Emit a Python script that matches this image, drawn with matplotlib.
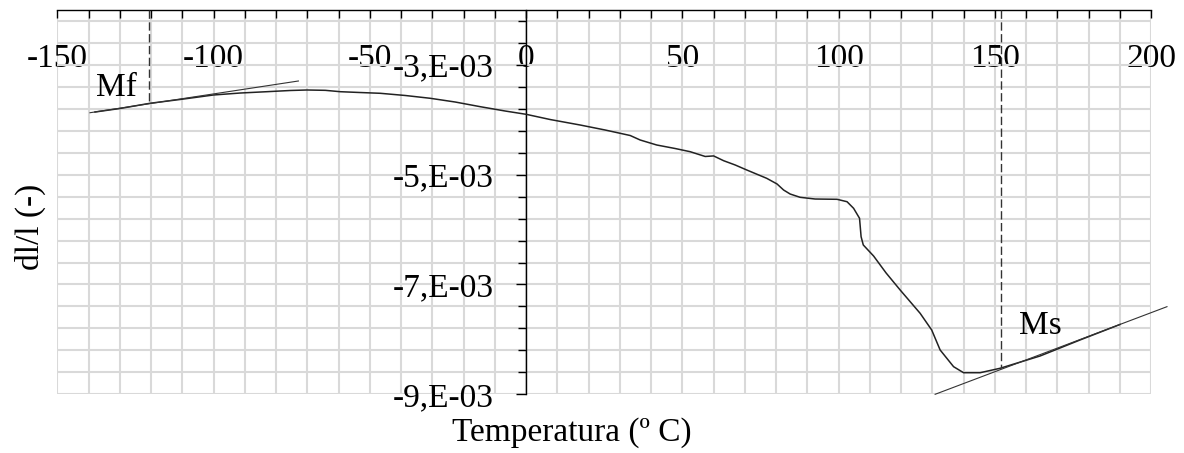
import numpy as np
import matplotlib
matplotlib.use("Agg")
import matplotlib.pyplot as plt

plt.rcParams['font.family'] = ['Liberation Serif', 'DejaVu Serif']
plt.rcParams['axes.unicode_minus'] = False

# curve: temperatura (C) and dl/l (in 1e-3)
temp = np.array([-138.0, -130.0, -120.4, -110.8, -100.1, -91.5, -83.0, -75.5, -70.2, -64.3,
                 -59.5, -53.1, -46.7, -38.7, -30.7, -22.7, -14.7, -6.7, 0.0, 7.7,
                 17.3, 25.3, 33.3, 36.5, 41.8, 47.7, 52.5, 57.3, 60.0, 63.2,
                 66.9, 70.6, 77.0, 80.3, 82.4, 84.5, 87.7, 92.5, 99.5, 102.7,
                 104.8, 106.7, 107.2, 107.9, 111.2, 115.2, 119.7, 126.1, 129.8, 132.5,
                 136.8, 140.0, 145.3, 151.7, 164.5, 177.3, 190.1])
dl = np.array([-3.858, -3.794, -3.699, -3.630, -3.548, -3.512, -3.488, -3.466, -3.457, -3.463,
               -3.488, -3.503, -3.517, -3.557, -3.608, -3.676, -3.761, -3.840, -3.900, -3.995,
               -4.095, -4.186, -4.286, -4.368, -4.459, -4.523, -4.581, -4.668, -4.658, -4.745,
               -4.823, -4.914, -5.066, -5.169, -5.279, -5.352, -5.412, -5.443, -5.448, -5.492,
               -5.612, -5.794, -6.129, -6.280, -6.481, -6.790, -7.100, -7.525, -7.829, -8.193,
               -8.497, -8.607, -8.607, -8.526, -8.302, -8.010, -7.727]) * 1e-3

# tangents and transformation temperatures
mf_tan_x = [-139.6, -72.9]
mf_tan_y = [-3.871e-3, -3.293e-3]
ms_tan_x = [130.9, 205.1]
ms_tan_y = [-9.0e-3, -7.404e-3]
mf_x, mf_y = -120.8, -3.70e-3
ms_x, ms_y = 152.0, -8.526e-3

xticks = [-150, -100, -50, 0, 50, 100, 150, 200]
yticks = [-9e-3, -7e-3, -5e-3, -3e-3]
ylabels = ['-9,E-03', '-7,E-03', '-5,E-03', '-3,E-03']

fig = plt.figure(figsize=(11.84, 4.53), dpi=100)
ax = fig.add_axes([0.04856, 0.1296, 0.9236, 0.8483])

ax.set_xlim(-150, 200)
ax.set_ylim(-9e-3, -2e-3)

ax.plot(temp, dl, color="#222222", lw=1.1, zorder=3)
ax.plot(mf_tan_x, mf_tan_y, color="#333333", lw=0.8, zorder=3)
ax.plot(ms_tan_x, ms_tan_y, color="#333333", lw=0.8, zorder=3, clip_on=False)
ax.plot([mf_x, mf_x], [-2e-3, mf_y], color="#333333", lw=1.0, dashes=(6, 2.5), zorder=3)
ax.plot([ms_x, ms_x], [-2e-3, ms_y], color="#333333", lw=1.0, dashes=(6, 2.5), zorder=3)
ax.text(-131.2, -3.42e-3, "Mf", fontsize=24, ha="center", va="center")
ax.text(164.5, -7.75e-3, "Ms", fontsize=24, ha="center", va="center")

# spines: top frame line and y axis at x = 0
ax.spines['right'].set_visible(False)
ax.spines['bottom'].set_visible(False)
ax.spines['left'].set_position(('data', 0))
ax.spines['top'].set_linewidth(1.0)
ax.spines['left'].set_linewidth(1.0)

ax.set_xticks(xticks)
ax.set_xticks(np.arange(-150, 201, 10), minor=True)
ax.xaxis.set_ticks_position('top')
ax.tick_params(axis='x', which='both', direction='in', length=5.5, width=1.0,
               labelsize=24, pad=-46, top=True, bottom=False, labeltop=True, labelbottom=False)

ax.set_yticks(yticks, ylabels)
ax.set_yticks(np.arange(-9.0, -2.1, 0.4) * 1e-3, minor=True)
ax.tick_params(axis='y', which='major', direction='out', length=7.5, width=1.0,
               labelsize=24, pad=16)
ax.tick_params(axis='y', which='minor', direction='out', length=6, width=1.0)

ax.grid(which='both', color="#d9d9d9", lw=1.5, zorder=0)
ax.set_axisbelow(True)

ax.set_xlabel("Temperatura (º C)", fontsize=24)
ax.xaxis.set_label_coords(0.4705, -0.1007)
ax.xaxis.label.set_va('center')
ax.set_ylabel("dl/l (-)", fontsize=24)
ax.yaxis.set_label_coords(-0.0252, 0.435)
ax.yaxis.label.set_va('center')

fig.savefig("out.png", dpi=100)
